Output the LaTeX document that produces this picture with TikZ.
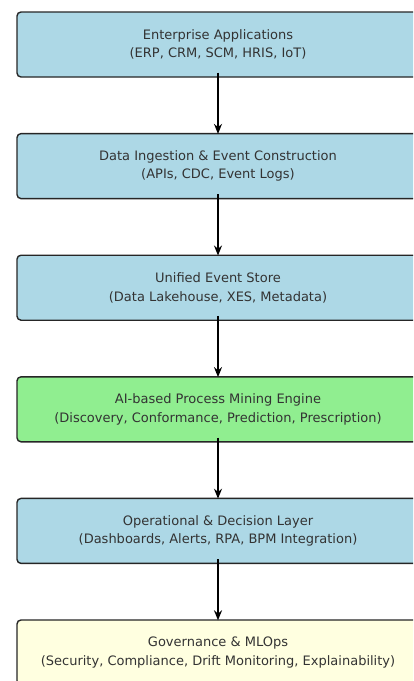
\documentclass[tikz,border=0pt]{standalone}
\usepackage{fontspec}
\setmainfont{DejaVu Sans}
\usetikzlibrary{positioning,arrows.meta}
\definecolor{lightblue}{HTML}{ADD8E6}
\definecolor{lightgreen}{HTML}{90EE90}
\definecolor{lightyellow}{HTML}{FFFFE0}

\tikzset{
  layerbox/.style={draw=black!85, line width=1.4pt, rounded corners=4pt,
    minimum width=402pt, minimum height=65pt, inner sep=0pt, align=center,
    text=black!80, font=\fontsize{13}{18.5}\selectfont},
  flowarrow/.style={draw=black, line width=1.6pt, -{Stealth[length=10pt,width=8pt]}}
}

\begin{document}
\begin{tikzpicture}[x=1pt, y=-1pt, node distance=55.2pt]
        \useasboundingbox (0,0) rectangle (413,681);
        \clip (0,0) rectangle (413,681);

        % Layers
        \node[layerbox, fill=lightblue] (b1) at (218,44.5) {Enterprise Applications\\(ERP, CRM, SCM, HRIS, IoT)};
        \node[layerbox, fill=lightblue, below=of b1] (b2) {Data Ingestion \& Event Construction\\(APIs, CDC, Event Logs)};
        \node[layerbox, fill=lightblue, below=of b2] (b3) {Unified Event Store\\(Data Lakehouse, XES, Metadata)};
        \node[layerbox, fill=lightgreen, below=of b3] (b4) {AI-based Process Mining Engine\\(Discovery, Conformance, Prediction, Prescription)};
        \node[layerbox, fill=lightblue, below=of b4] (b5) {Operational \& Decision Layer\\(Dashboards, Alerts, RPA, BPM Integration)};
        \node[layerbox, fill=lightyellow, below=of b5] (b6) {Governance \& MLOps\\(Security, Compliance, Drift Monitoring, Explainability)};

        % Flow
        \foreach \a/\b in {b1/b2, b2/b3, b3/b4, b4/b5, b5/b6} {
            \draw[flowarrow] ([yshift=5pt]\a.south) -- ([yshift=-1pt]\b.north);
        }
    \end{tikzpicture}
\end{document}
